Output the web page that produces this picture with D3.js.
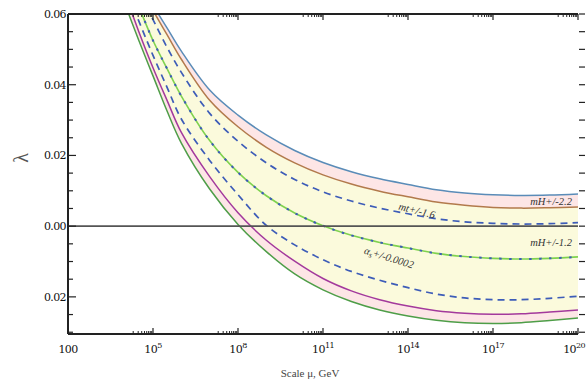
<!DOCTYPE html>
<html><head><meta charset="utf-8">
<script src="https://cdn.jsdelivr.net/npm/d3@7"></script>
<style>html,body{margin:0;padding:0;background:#fff;}svg{display:block;}</style>
</head><body>
<svg id="chart" width="586" height="382"></svg>
<script>
// log10 of scale mu (GeV)
const logMu = [4,4.5,5,5.5,6,7,8,9,10,11,12,13,14,15,16,17,18,19,20];
const blueTop  = [0.077,0.0695,0.0625,0.056,0.0495,0.0385,0.0314,0.0258,0.0214,0.0180,0.0154,0.0134,0.0118,0.0103,0.0094,0.0089,0.0087,0.0088,0.0091];
const brown    = [0.076,0.0683,0.0610,0.0541,0.0472,0.0356,0.0281,0.0223,0.0179,0.0145,0.0119,0.0099,0.0083,0.0068,0.0059,0.0053,0.0051,0.0052,0.0054];
const dashUp   = [0.074,0.0660,0.0584,0.0505,0.0435,0.0319,0.0240,0.0179,0.0132,0.0097,0.0071,0.0051,0.0035,0.0021,0.0012,0.0008,0.0006,0.0007,0.0010];
const center   = [0.071,0.0620,0.0525,0.0445,0.0368,0.0242,0.0152,0.0086,0.0037,0.0001,-0.0026,-0.0046,-0.0062,-0.0077,-0.0086,-0.0091,-0.0093,-0.0091,-0.0087];
const dashLow  = [0.068,0.0580,0.0483,0.0392,0.0303,0.0186,0.0089,0.0002,-0.0053,-0.0095,-0.0128,-0.0153,-0.0174,-0.0192,-0.0203,-0.0208,-0.0208,-0.0204,-0.0198];
const magenta  = [0.066,0.0550,0.0448,0.0355,0.0265,0.0140,0.0038,-0.0040,-0.0099,-0.0148,-0.0183,-0.0208,-0.0226,-0.0239,-0.0246,-0.0249,-0.0248,-0.0243,-0.0237];
const greenLow = [0.063,0.0525,0.0425,0.0325,0.0235,0.0105,0.0005,-0.0072,-0.0135,-0.0180,-0.0213,-0.0237,-0.0254,-0.0266,-0.0273,-0.0275,-0.0273,-0.0267,-0.0260];

const xMajorExp = [2,5,8,11,14,17,20];
const yMajor = [0.06,0.04,0.02,0.00,-0.02];
const yTickLabels = ["0.06","0.04","0.02","0.00","0.02"];

const L = 68, R = 578, T = 14, B = 334;
const x = d3.scaleLog().domain([1e2,1e20]).range([L,R]);
const y = d3.scaleLinear().domain([-0.0305,0.06]).range([B,T]);

const svg = d3.select("#chart");
svg.append("defs").append("clipPath").attr("id","clip")
  .append("rect").attr("x",L).attr("y",T).attr("width",R-L).attr("height",B-T);

const pts = arr => arr.map((v,i)=>({m:Math.pow(10,logMu[i]), v}));
const curve = d3.curveCatmullRom.alpha(0.5);
const line = d3.line().x(d=>x(d.m)).y(d=>y(d.v)).curve(curve);
const band = (up,lo) => d3.area().x((d,i)=>x(Math.pow(10,logMu[i]))).y1((d,i)=>y(up[i])).y0((d,i)=>y(lo[i])).curve(curve)(logMu);

const g = svg.append("g").attr("clip-path","url(#clip)");
g.append("path").attr("d",band(blueTop,brown)).attr("fill","#fde6e6");
g.append("path").attr("d",band(brown,magenta)).attr("fill","#fbfadc");
g.append("path").attr("d",band(magenta,greenLow)).attr("fill","#fde6e6");

// zero line
svg.append("line").attr("x1",L).attr("x2",R).attr("y1",y(0)).attr("y2",y(0))
  .attr("stroke","#555").attr("stroke-width",1.6);

const draw = (arr,color,w,dash) => {
  const p = g.append("path").attr("d",line(pts(arr))).attr("fill","none")
    .attr("stroke",color).attr("stroke-width",w);
  if (dash) p.attr("stroke-dasharray",dash);
};
draw(greenLow,"#4e9e48",1.5);
draw(magenta,"#a3399c",1.5);
draw(dashLow,"#3d5cb8",1.7,"7,5");
draw(center,"#7fd24f",1.6);
draw(center,"#3d5cb8",2,"2.5,7.5");
draw(dashUp,"#3d5cb8",1.7,"7,5");
draw(brown,"#b27a4c",1.5);
draw(blueTop,"#5a8cb8",1.5);

// frame
const ax = svg.append("g").attr("stroke","#222").attr("fill","none");
ax.append("line").attr("x1",L).attr("x2",L).attr("y1",T).attr("y2",B).attr("stroke-width",2);
ax.append("line").attr("x1",L).attr("x2",R).attr("y1",B).attr("y2",B).attr("stroke-width",2);
ax.append("line").attr("x1",L).attr("x2",R).attr("y1",T).attr("y2",T).attr("stroke-width",2);

// y ticks
const yTicks = d3.range(0,19).map(i=>0.06-i*0.005);
yTicks.forEach(v=>{
  const isMaj = yMajor.some(m=>Math.abs(m-v)<1e-9);
  ax.append("line").attr("x1",L).attr("x2",L+(isMaj?8:5)).attr("y1",y(v)).attr("y2",y(v)).attr("stroke-width",1.2);
  ax.append("line").attr("x1",R+1).attr("x2",R+7).attr("y1",y(v)).attr("y2",y(v)).attr("stroke-width",1.2);
});
// x ticks
xMajorExp.forEach(k=>{
  const mx = x(Math.pow(10,k));
  ax.append("line").attr("x1",mx).attr("x2",mx).attr("y1",B).attr("y2",B-6).attr("stroke-width",1.2);
  ax.append("line").attr("x1",mx).attr("x2",mx).attr("y1",T).attr("y2",T+6).attr("stroke-width",1.2);
  if (k>2) for (let m=2;m<=9;m++){
    const xx = x(m*Math.pow(10,k-1));
    ax.append("line").attr("x1",xx).attr("x2",xx).attr("y1",B).attr("y2",B-3).attr("stroke-width",1);
    ax.append("line").attr("x1",xx).attr("x2",xx).attr("y1",T).attr("y2",T+3).attr("stroke-width",1);
  }
});

const font = "'DejaVu Serif', 'Liberation Serif', serif";
// y labels
yMajor.forEach((v,i)=>{
  svg.append("text").attr("x",L-2).attr("y",y(v)+4).attr("text-anchor","end")
    .attr("font-family",font).attr("font-size",11).attr("fill","#111").attr("letter-spacing",-0.6)
    .text(yTickLabels[i]);
});
// x labels
xMajorExp.forEach(k=>{
  const last = k===20;
  const t = svg.append("text").attr("x",last?585:x(Math.pow(10,k))).attr("y",353)
    .attr("text-anchor",last?"end":"middle")
    .attr("font-family",font).attr("font-size",11).attr("fill","#111").attr("letter-spacing",-0.6);
  if (k===2) t.text("100");
  else { t.append("tspan").text("10"); t.append("tspan").attr("dy",-5).attr("font-size",8).text(String(k)); }
});
svg.append("text").attr("x",310).attr("y",377).attr("text-anchor","middle")
  .attr("font-family","'Liberation Serif', serif").attr("font-size",11).attr("fill","#444")
  .text("Scale \u03bc, GeV");
svg.append("text").attr("transform","translate(28,158) rotate(-90)").attr("text-anchor","middle")
  .attr("font-family","'Liberation Serif', serif").attr("font-size",20).attr("fill","#555").text("\u03bb");

// annotations
const ann = (txt,tx,ty,rot,anchor) => svg.append("text").attr("transform",`translate(${tx},${ty}) rotate(${rot})`)
  .attr("text-anchor",anchor||"middle").attr("font-family","'Liberation Serif', serif").attr("font-style","italic")
  .attr("font-size",10.5).attr("fill","#333").text(txt);
ann("mH+/-2.2",572,205,0,"end");
ann("mH+/-1.2",572,246,0,"end");
ann("mt+/-1.6",416,214,14);
const a = svg.append("text").attr("transform","translate(388,261) rotate(17)")
  .attr("text-anchor","middle").attr("font-family","'Liberation Serif', serif").attr("font-style","italic")
  .attr("font-size",10.5).attr("fill","#333");
a.append("tspan").text("\u03b1");
a.append("tspan").attr("font-size",8).attr("dy",2).text("s");
a.append("tspan").attr("dy",-2).text("+/-0.0002");
</script>
</body></html>
